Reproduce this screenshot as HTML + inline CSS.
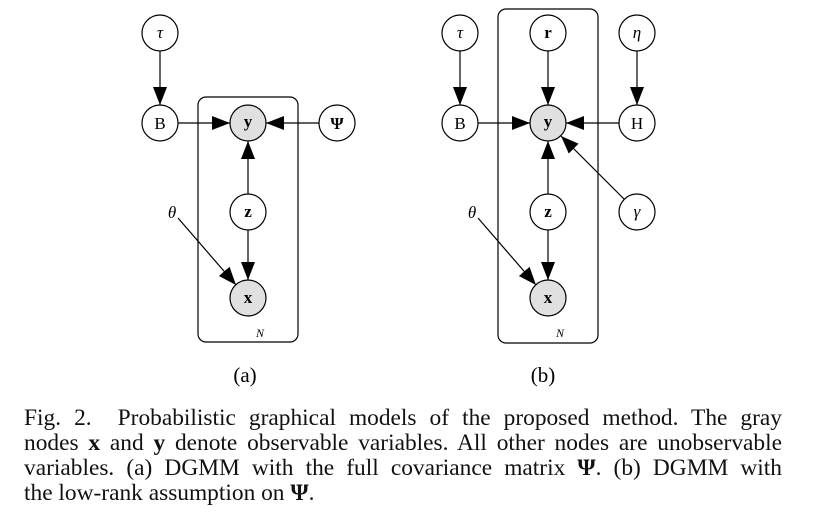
<!DOCTYPE html>
<html><head><meta charset="utf-8"><style>
body{margin:0;width:819px;height:514px;background:#fff;overflow:hidden;position:relative;font-family:"Liberation Serif",serif}
.l{position:absolute;left:24px;width:758px;font-size:23.4px;line-height:25px;color:#111;white-space:nowrap}
.j{text-align:justify;text-align-last:justify;white-space:normal}
b{font-weight:bold}
</style></head><body>
<svg width="819" height="390" style="position:absolute;left:0;top:0" font-family="Liberation Serif, serif">
<defs>
<marker id="A" markerWidth="18" markerHeight="16" refX="18" refY="8" orient="auto" markerUnits="userSpaceOnUse"><path d="M0,1 L18,8 L0,15Z" fill="#000"/></marker></defs>
<g stroke="#000" stroke-width="1.2" fill="none">
<rect x="198" y="97" width="100" height="245" rx="8"/>
<rect x="498" y="9" width="100" height="334" rx="8"/>
<line x1="160" y1="51" x2="160" y2="105" marker-end="url(#A)"/>
<line x1="178" y1="123" x2="230" y2="123" marker-end="url(#A)"/>
<line x1="319" y1="123" x2="266" y2="123" marker-end="url(#A)"/>
<line x1="248" y1="194" x2="248" y2="141" marker-end="url(#A)"/>
<line x1="248" y1="230" x2="248" y2="280" marker-end="url(#A)"/>
<line x1="178" y1="218" x2="236" y2="285" marker-end="url(#A)"/>
<line x1="460" y1="51" x2="460" y2="105" marker-end="url(#A)"/>
<line x1="548" y1="51" x2="548" y2="105" marker-end="url(#A)"/>
<line x1="637" y1="51" x2="637" y2="105" marker-end="url(#A)"/>
<line x1="478" y1="123" x2="530" y2="123" marker-end="url(#A)"/>
<line x1="619" y1="123" x2="566" y2="123" marker-end="url(#A)"/>
<line x1="548" y1="194" x2="548" y2="141" marker-end="url(#A)"/>
<line x1="548" y1="230" x2="548" y2="280" marker-end="url(#A)"/>
<line x1="478" y1="218" x2="536" y2="285" marker-end="url(#A)"/>
<line x1="624" y1="199" x2="561" y2="136" marker-end="url(#A)"/>
</g>
<g stroke="#000" stroke-width="1.2">
<circle cx="160" cy="33" r="18" fill="#fff"/><circle cx="160" cy="123" r="18" fill="#fff"/>
<circle cx="248" cy="123" r="18" fill="#e0e0e0"/><circle cx="337" cy="123" r="18" fill="#fff"/>
<circle cx="248" cy="212" r="18" fill="#fff"/><circle cx="248" cy="298" r="18" fill="#e0e0e0"/>
<circle cx="460" cy="33" r="18" fill="#fff"/><circle cx="548" cy="33" r="18" fill="#fff"/><circle cx="637" cy="33" r="18" fill="#fff"/>
<circle cx="460" cy="123" r="18" fill="#fff"/><circle cx="548" cy="123" r="18" fill="#e0e0e0"/><circle cx="637" cy="123" r="18" fill="#fff"/>
<circle cx="637" cy="212" r="18" fill="#fff"/><circle cx="548" cy="212" r="18" fill="#fff"/><circle cx="548" cy="298" r="18" fill="#e0e0e0"/>
</g>
<g font-size="17" text-anchor="middle" fill="#000">
<text x="160" y="38" font-style="italic">τ</text><text x="160" y="129">B</text>
<text x="248" y="127" font-weight="bold">y</text><text x="337" y="129" font-weight="bold">Ψ</text>
<text x="248" y="217" font-weight="bold">z</text><text x="248" y="303" font-weight="bold">x</text>
<text x="172" y="218" font-style="italic">θ</text><text x="260" y="337" font-size="12" font-style="italic">N</text>
<text x="460" y="38" font-style="italic">τ</text><text x="548" y="38" font-weight="bold">r</text><text x="637" y="38" font-style="italic">η</text>
<text x="460" y="129">B</text><text x="548" y="127" font-weight="bold">y</text><text x="637" y="129">H</text>
<text x="637" y="217" font-style="italic">γ</text>
<text x="548" y="217" font-weight="bold">z</text><text x="548" y="303" font-weight="bold">x</text>
<text x="472" y="218" font-style="italic">θ</text><text x="560" y="337" font-size="12" font-style="italic">N</text>
<text x="245" y="382" font-size="21">(a)</text><text x="543" y="382" font-size="21">(b)</text>
</g>
</svg>
<div class="l j" style="top:406px">Fig. 2.&nbsp; Probabilistic graphical models of the proposed method. The gray</div>
<div class="l j" style="top:431px">nodes <b>x</b> and <b>y</b> denote observable variables. All other nodes are unobservable</div>
<div class="l j" style="top:456px">variables. (a) DGMM with the full covariance matrix <b>Ψ</b>. (b) DGMM with</div>
<div class="l" style="top:481px">the low-rank assumption on <b>Ψ</b>.</div>
</body></html>
